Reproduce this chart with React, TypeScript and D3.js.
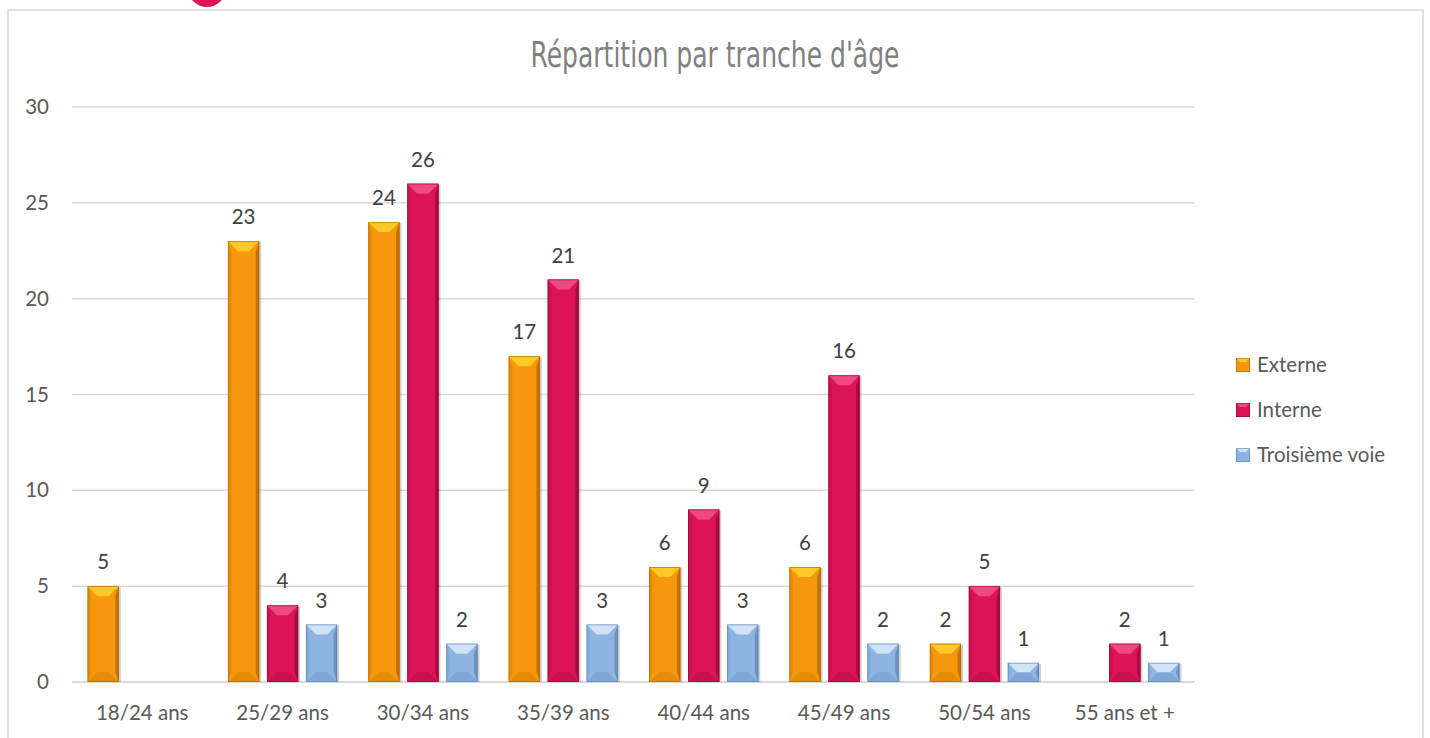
import React, { useEffect, useRef } from "react";
import * as d3 from "d3";

const categories = ["18/24 ans", "25/29 ans", "30/34 ans", "35/39 ans", "40/44 ans", "45/49 ans", "50/54 ans", "55 ans et +"];
const seriesNames = ["Externe", "Interne", "Troisième voie"];
const externe = [5, 23, 24, 17, 6, 6, 2, null];
const interne = [null, 4, 26, 21, 9, 16, 5, 2];
const troisieme = [null, 3, 2, 3, 3, 2, 1, 1];
const yTicks = [0, 5, 10, 15, 20, 25, 30];

// base, top face, left face, right face, bottom face, outline
const palettes = [
  { base: "#f7980c", top: "#ffc928", left: "#e88c08", right: "#c47406", bottom: "#e58c06", line: "#a86204" },
  { base: "#dc1457", top: "#f0497f", left: "#cc104f", right: "#a80c40", bottom: "#c9104e", line: "#8e0a36" },
  { base: "#8db4e3", top: "#cfe3f9", left: "#84abd9", right: "#6c92c0", bottom: "#7fa6d6", line: "#5d7fa8" },
];

const font = "Lato, 'Noto Sans', sans-serif";

const App = () => {
  const ref = useRef<SVGSVGElement>(null);

  useEffect(() => {
    const W = 1430, H = 738;
    const svg = d3.select(ref.current).attr("width", W).attr("height", H);
    svg.selectAll("*").remove();

    svg.append("rect").attr("width", W).attr("height", H).attr("fill", "#fff");

    // pink decoration cut at the top of the page
    svg.append("ellipse").attr("cx", 207).attr("cy", -14).attr("rx", 20).attr("ry", 21).attr("fill", "#dc1457");

    // chart frame
    svg.append("rect")
      .attr("x", 8).attr("y", 10).attr("width", 1415).attr("height", 740)
      .attr("fill", "none").attr("stroke", "#d9d9d9").attr("stroke-width", 1.5);

    const left = 72, right = 1195, top = 107, bottom = 682;

    const x0 = d3.scaleBand<string>().domain(categories).range([left, right]).padding(0);
    const step = x0.bandwidth();
    const x1 = d3.scaleBand<string>().domain(seriesNames).range([step / 9, step - step / 9]).paddingInner(0.2);
    const y = d3.scaleLinear().domain([0, 30]).range([bottom, top]);

    // gridlines
    svg.append("g").selectAll("line").data(yTicks).join("line")
      .attr("x1", left).attr("x2", right)
      .attr("y1", d => y(d)).attr("y2", d => y(d))
      .attr("stroke", "#d9d9d9").attr("stroke-width", d => (d === 0 ? 2 : 1.5));

    svg.append("g").selectAll("text").data(yTicks).join("text")
      .attr("x", 49).attr("y", d => y(d) + 7)
      .attr("text-anchor", "end")
      .attr("font-family", font).attr("font-size", 20.5).attr("fill", "#595959")
      .text(d => d);

    svg.append("g").selectAll("text").data(categories).join("text")
      .attr("x", d => (x0(d) as number) + step / 2).attr("y", 720)
      .attr("text-anchor", "middle")
      .attr("font-family", font).attr("font-size", 20.5).attr("fill", "#595959")
      .text(d => d);

    const values = [externe, interne, troisieme];
    const bars: { cat: string; s: number; v: number }[] = [];
    categories.forEach((c, i) => {
      values.forEach((arr, s) => {
        const v = arr[i];
        if (v != null) bars.push({ cat: c, s, v });
      });
    });

    const gBars = svg.append("g");
    bars.forEach(b => {
      const p = palettes[b.s];
      const bx = (x0(b.cat) as number) + (x1(seriesNames[b.s]) as number);
      const bw = x1.bandwidth();
      const by = y(b.v);
      const bh = y(0) - by;
      const bv = Math.min(10, bh / 2, bw / 2);
      const g = gBars.append("g");
      // shadow
      g.append("rect").attr("x", bx + 2).attr("y", by + 1).attr("width", bw).attr("height", bh - 1)
        .attr("fill", "#000").attr("opacity", 0.18);
      g.append("rect").attr("x", bx).attr("y", by).attr("width", bw).attr("height", bh).attr("fill", p.base);
      const x2 = bx + bw, y2 = by + bh;
      const poly = (pts: number[][], fill: string) =>
        g.append("polygon").attr("points", pts.map(q => q.join(",")).join(" ")).attr("fill", fill);
      poly([[bx, by], [x2, by], [x2 - bv, by + bv], [bx + bv, by + bv]], p.top);
      poly([[bx, by], [bx + bv * 0.35, by + bv], [bx + bv * 0.35, y2 - bv], [bx, y2]], p.left);
      poly([[x2, by], [x2 - bv * 0.35, by + bv], [x2 - bv * 0.35, y2 - bv], [x2, y2]], p.right);
      poly([[bx, y2], [x2, y2], [x2 - bv, y2 - bv], [bx + bv, y2 - bv]], p.bottom);
      g.append("rect").attr("x", bx + 0.4).attr("y", by + 0.4).attr("width", bw - 0.8).attr("height", bh - 0.8)
        .attr("fill", "none").attr("stroke", p.line).attr("stroke-width", 0.8).attr("opacity", 0.7);
      svg.append("text")
        .attr("x", bx + bw / 2).attr("y", by - 17)
        .attr("text-anchor", "middle")
        .attr("font-family", font).attr("font-size", 20.5).attr("fill", "#404040")
        .text(b.v);
    });

    svg.append("text")
      .attr("x", 715).attr("y", 67)
      .attr("text-anchor", "middle")
      .attr("font-family", "'DejaVu Sans Condensed', 'Roboto', sans-serif")
      .attr("font-size", 35).attr("fill", "#808080")
      .attr("textLength", 369).attr("lengthAdjust", "spacingAndGlyphs")
      .text("Répartition par tranche d'âge");

    // legend
    const lg = svg.append("g");
    seriesNames.forEach((n, i) => {
      const p = palettes[i];
      const ly = 358 + i * 45;
      const lx = 1236;
      const s = 14, bv = 4;
      lg.append("rect").attr("x", lx).attr("y", ly).attr("width", s).attr("height", s).attr("fill", p.base);
      lg.append("polygon")
        .attr("points", [[lx, ly], [lx + s, ly], [lx + s - bv, ly + bv], [lx + bv, ly + bv]].map(q => q.join(",")).join(" "))
        .attr("fill", p.top);
      lg.append("rect").attr("x", lx + 0.4).attr("y", ly + 0.4).attr("width", s - 0.8).attr("height", s - 0.8)
        .attr("fill", "none").attr("stroke", p.line).attr("stroke-width", 0.8).attr("opacity", 0.7);
      lg.append("text").attr("x", 1257).attr("y", ly + 14)
        .attr("font-family", font).attr("font-size", 20.5).attr("fill", "#595959")
        .text(n);
    });
  }, []);

  return <svg ref={ref} style={{ position: "absolute", left: 0, top: 0 }}></svg>;
};

export default App;
